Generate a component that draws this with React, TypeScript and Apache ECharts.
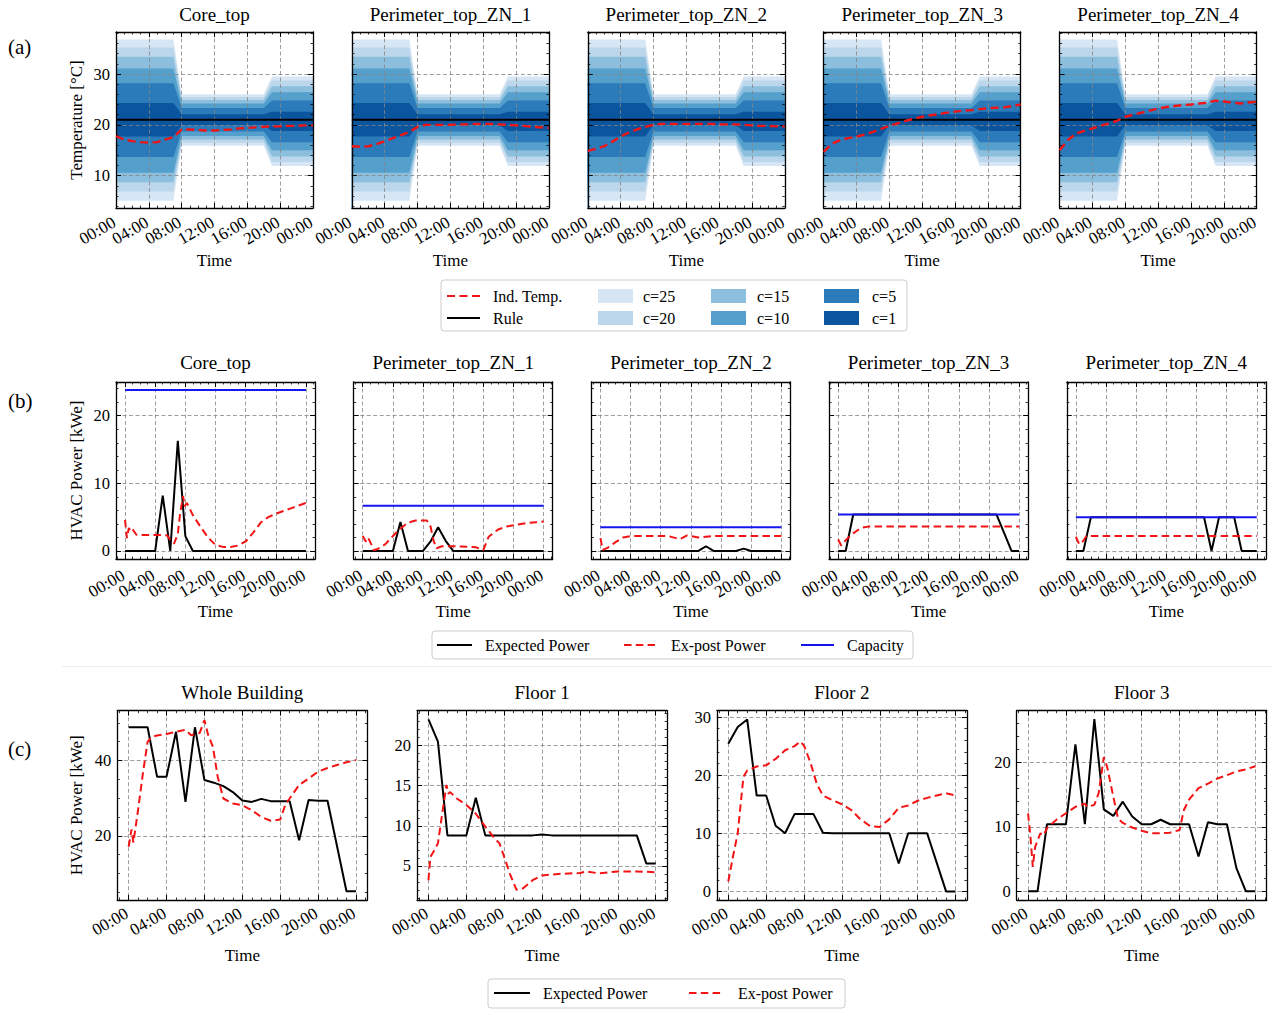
import React, { useEffect, useRef } from "react";
import * as echarts from "echarts";

const FONT = "'Liberation Serif', 'DejaVu Serif', serif";

// ---------------- (a) indoor temperature ----------------
const ZONES = ["Core_top", "Perimeter_top_ZN_1", "Perimeter_top_ZN_2", "Perimeter_top_ZN_3", "Perimeter_top_ZN_4"];
const HOURS = [0, 1, 2, 3, 4, 5, 6, 7, 8, 9, 10, 11, 12, 13, 14, 15, 16, 17, 18, 19, 20, 21, 22, 23, 24];
const PERIOD = ["N", "N", "N", "N", "N", "N", "N", "N", "D", "D", "D", "D", "D", "D", "D", "D", "D", "D", "D", "E", "E", "E", "E", "E", "E"];
const C_LABELS = ["c=25", "c=20", "c=15", "c=10", "c=5", "c=1"];
const C_COLORS = ["#d6e6f4", "#bcd7eb", "#8bbfdd", "#559fcd", "#2b7bba", "#0b559f"];
const NIGHT_LOW = [5.1, 6.9, 8.7, 10.6, 13.7, 17.7];
const NIGHT_HIGH = [36.8, 35.2, 33.4, 31.1, 28.2, 24.3];
const DAY_LOW = [15.9, 16.5, 17.1, 17.8, 18.7, 19.9];
const DAY_HIGH = [26.0, 25.5, 24.9, 24.2, 23.3, 22.1];
const EVE_LOW = [11.9, 12.7, 13.8, 15.0, 16.6, 18.8];
const EVE_HIGH = [29.5, 28.7, 27.6, 26.4, 24.8, 22.6];
const RULE_TEMP = 21.0;
const IND_TEMP_CORE = [17.8, 17.1, 16.8, 16.6, 16.5, 16.6, 17.1, 17.6, 19.1, 19.1, 19.0, 18.9, 18.9, 19.0, 19.1, 19.3, 19.4, 19.5, 19.6, 19.7, 19.7, 19.8, 19.8, 19.9, 19.9];
const IND_TEMP_ZN1 = [15.8, 15.7, 15.8, 16.2, 16.8, 17.4, 18.0, 18.6, 19.6, 20.0, 20.0, 20.0, 20.0, 20.1, 20.1, 20.2, 20.2, 20.2, 20.1, 20.0, 19.9, 19.8, 19.6, 19.5, 19.4];
const IND_TEMP_ZN2 = [14.9, 15.3, 15.8, 16.7, 17.7, 18.5, 19.1, 19.6, 20.0, 20.2, 20.2, 20.2, 20.2, 20.2, 20.2, 20.2, 20.1, 20.1, 20.1, 20.0, 19.9, 19.8, 19.8, 19.7, 19.7];
const IND_TEMP_ZN3 = [14.7, 16.3, 17.0, 17.4, 17.7, 18.1, 18.6, 19.2, 19.8, 20.3, 20.8, 21.2, 21.6, 21.9, 22.1, 22.4, 22.6, 22.8, 22.9, 23.1, 23.25, 23.35, 23.45, 23.7, 24.0];
const IND_TEMP_ZN4 = [15.0, 17.0, 18.3, 18.8, 19.3, 19.8, 20.3, 20.8, 21.6, 22.0, 22.4, 22.8, 23.2, 23.5, 23.7, 23.9, 24.0, 24.2, 24.35, 24.75, 24.6, 24.4, 24.2, 24.4, 24.55];
const IND_TEMPS = [IND_TEMP_CORE, IND_TEMP_ZN1, IND_TEMP_ZN2, IND_TEMP_ZN3, IND_TEMP_ZN4];

// ---------------- (b) zone HVAC power ----------------
const EXP_B_CORE = [0, 0, 0, 0, 0, 8.2, 0, 16.3, 2.2, 0, 0, 0, 0, 0, 0, 0, 0, 0, 0, 0, 0, 0, 0, 0, 0];
const EXP_B_ZN1 = [0, 0, 0, 0, 0, 4.3, 0, 0, 0, 1.4, 3.5, 1.5, 0, 0, 0, 0, 0, 0, 0, 0, 0, 0, 0, 0, 0];
const EXP_B_ZN2 = [0, 0, 0, 0, 0, 0, 0, 0, 0, 0, 0, 0, 0, 0, 0.7, 0, 0, 0, 0, 0.35, 0, 0, 0, 0, 0];
const EXP_B_ZN3 = [0, 0, 5.4, 5.4, 5.4, 5.4, 5.4, 5.4, 5.4, 5.4, 5.4, 5.4, 5.4, 5.4, 5.4, 5.4, 5.4, 5.4, 5.4, 5.4, 5.4, 5.4, 2.7, 0, 0];
const EXP_B_ZN4 = [0, 0, 5.0, 5.0, 5.0, 5.0, 5.0, 5.0, 5.0, 5.0, 5.0, 5.0, 5.0, 5.0, 5.0, 5.0, 5.0, 5.0, 0, 5.0, 5.0, 5.0, 0, 0, 0];
const EXP_B = [EXP_B_CORE, EXP_B_ZN1, EXP_B_ZN2, EXP_B_ZN3, EXP_B_ZN4];
const CAPACITY_B = [23.8, 6.7, 3.5, 5.4, 5.0];
const POST_B_CORE = [[0, 4.6], [0.25, 1.9], [0.5, 3.4], [0.75, 2.9], [1, 3.2], [1.5, 2.4], [2, 2.35], [3, 2.35], [4, 2.35], [5, 2.35], [5.6, 2.3], [6, 1.6], [6.5, 1.1], [7, 2.5], [7.3, 5.5], [7.7, 8.1], [7.9, 6.6], [8.2, 7.1], [8.6, 6.2], [9, 5.3], [10, 3.6], [11, 2.0], [12, 0.9], [13, 0.6], [14, 0.6], [15, 0.8], [16, 1.4], [17, 2.7], [18, 4.2], [19, 5.0], [20, 5.5], [21, 5.9], [22, 6.3], [23, 6.7], [24, 7.1]];
const POST_B_ZN1 = [[0, 2.2], [0.4, 1.4], [0.7, 2.0], [1.5, 0.1], [2, 0.3], [3, 1.0], [4, 2.2], [5, 3.3], [6, 4.2], [7, 4.5], [8, 4.5], [8.5, 4.5], [9, 3.6], [9.4, 1.5], [9.8, 0.4], [10.5, 0.7], [12, 0.7], [13, 0.65], [14, 0.6], [15, 0.55], [16, 0.15], [16.7, 2.1], [17.5, 2.8], [18, 3.2], [19, 3.6], [20, 3.8], [21, 4.0], [22, 4.15], [23, 4.25], [24, 4.35]];
const POST_B_ZN2 = [[0, 1.9], [0.3, 0.15], [1, 0.5], [2, 1.3], [3, 2.0], [4, 2.2], [5, 2.2], [6, 2.2], [7, 2.2], [8, 2.2], [9, 2.2], [10, 1.9], [10.5, 1.75], [11, 2.0], [11.5, 2.3], [12, 2.2], [13, 2.0], [14, 2.1], [15, 2.2], [16, 2.2], [18, 2.2], [20, 2.2], [22, 2.2], [24, 2.2]];
const POST_B_ZN3 = [[0, 1.7], [0.4, 0.8], [1.1, 1.7], [2, 2.6], [3, 3.4], [4, 3.6], [6, 3.6], [10, 3.6], [14, 3.6], [18, 3.6], [22, 3.6], [24, 3.6]];
const POST_B_ZN4 = [[0, 2.1], [0.45, 1.0], [1, 1.5], [1.4, 2.2], [2, 2.2], [6, 2.2], [12, 2.2], [18, 2.2], [24, 2.2]];
const POST_B = [POST_B_CORE, POST_B_ZN1, POST_B_ZN2, POST_B_ZN3, POST_B_ZN4];

// ---------------- (c) aggregated HVAC power ----------------
const AGG_NAMES = ["Whole Building", "Floor 1", "Floor 2", "Floor 3"];
const EXP_WHOLE = [48.8, 48.8, 48.8, 35.7, 35.7, 47.6, 29.0, 48.8, 34.8, 34.1, 33.2, 31.6, 29.4, 29.0, 29.8, 29.2, 29.2, 29.2, 18.8, 29.5, 29.3, 29.3, 17.3, 5.3, 5.3];
const EXP_F1 = [23.3, 20.5, 8.8, 8.8, 8.8, 13.5, 8.8, 8.8, 8.8, 8.8, 8.8, 8.8, 8.9, 8.8, 8.8, 8.8, 8.8, 8.8, 8.8, 8.8, 8.8, 8.8, 8.8, 5.3, 5.3];
const EXP_F2 = [25.4, 28.3, 29.6, 16.5, 16.5, 11.3, 10.0, 13.3, 13.3, 13.3, 10.1, 10.0, 10.0, 10.0, 10.0, 10.0, 10.0, 10.0, 4.8, 10.0, 10.0, 10.0, 5.0, 0, 0];
const EXP_F3 = [0, 0, 10.4, 10.4, 10.4, 22.8, 10.4, 26.7, 12.7, 11.7, 13.9, 11.6, 10.4, 10.4, 11.1, 10.4, 10.4, 10.4, 5.4, 10.7, 10.4, 10.4, 3.6, 0, 0];
const EXP_C = [EXP_WHOLE, EXP_F1, EXP_F2, EXP_F3];
const POST_WHOLE = [[0, 17.1], [0.3, 21.7], [0.5, 18.2], [1.0, 27.0], [1.5, 36.5], [2, 45.0], [2.5, 46.3], [3, 46.6], [4, 47.0], [5, 47.6], [6, 48.1], [6.6, 46.7], [7, 47.0], [7.5, 47.3], [8, 50.7], [8.4, 46.7], [8.9, 43.6], [9.4, 35.7], [10, 29.9], [11, 28.6], [12, 28.1], [13, 26.8], [14, 25.0], [15, 24.0], [16, 24.3], [16.6, 28.6], [17, 29.9], [18, 33.5], [19, 35.2], [20, 37.0], [21, 38.0], [22, 38.8], [23, 39.5], [24, 40.1]];
const POST_F1 = [[0, 3.2], [0.2, 6.1], [0.5, 6.7], [1, 7.8], [1.5, 11.9], [1.9, 15.1], [2.1, 14.0], [2.3, 14.2], [3, 13.4], [4, 12.6], [5, 11.5], [6, 9.9], [7, 8.4], [7.5, 7.8], [8, 6.1], [8.6, 4.0], [9.3, 2.0], [10, 2.2], [11, 3.2], [12, 3.8], [14, 4.0], [16, 4.1], [16.7, 4.3], [18, 4.05], [20, 4.3], [22, 4.3], [24, 4.2]];
const POST_F2 = [[0, 1.7], [0.5, 6.0], [1, 10.0], [1.6, 19.7], [2, 20.8], [3, 21.5], [4, 21.7], [5, 22.8], [6, 24.3], [7, 25.0], [7.6, 25.8], [8, 25.1], [8.65, 22.3], [9.35, 18.5], [10, 16.5], [11, 15.7], [12, 15.0], [13, 14.0], [13.9, 12.5], [15, 11.2], [16, 11.1], [17, 12.4], [18, 14.4], [19, 14.8], [20, 15.6], [21, 16.1], [22, 16.5], [23, 16.9], [24, 16.5]];
const POST_F3 = [[0, 12.1], [0.25, 8.5], [0.5, 3.8], [0.75, 6.9], [1.3, 9.0], [1.65, 8.7], [2, 9.8], [3, 11.1], [4, 12.1], [5, 13.1], [6, 13.6], [6.25, 13.1], [7, 13.4], [7.45, 15.2], [8, 20.8], [8.35, 19.3], [9, 14.7], [9.5, 11.3], [10, 10.6], [11, 9.9], [12, 9.4], [13, 9.0], [14, 9.0], [15, 9.1], [16, 9.5], [16.45, 12.6], [17, 14.2], [18, 16.0], [19, 16.7], [20, 17.5], [21, 18.0], [22, 18.6], [23, 18.9], [24, 19.4]];
const POST_C = [POST_WHOLE, POST_F1, POST_F2, POST_F3];

// ---------------- ticks ----------------
const X_MAJOR = [0, 4, 8, 12, 16, 20, 24];
const X_LABELS_SET1 = [0, 8, 16, 24];
const X_LABELS_SET2 = [4, 12, 20];
const X_MINOR_A = [0, 1, 2, 3, 4, 5, 6, 7, 8, 9, 10, 11, 12, 13, 14, 15, 16, 17, 18, 19, 20, 21, 22, 23, 24];
const X_MINOR_BC = [-1, 0, 1, 2, 3, 4, 5, 6, 7, 8, 9, 10, 11, 12, 13, 14, 15, 16, 17, 18, 19, 20, 21, 22, 23, 24, 25];
const Y_A_MAJOR = [10, 20, 30];
const Y_A_MINOR = [4, 6, 8, 10, 12, 14, 16, 18, 20, 22, 24, 26, 28, 30, 32, 34, 36, 38];
const Y_B_MAJOR = [0, 10, 20];
const Y_B_MINOR = [0, 2, 4, 6, 8, 10, 12, 14, 16, 18, 20, 22, 24];
const Y_C_MAJOR = [[20, 40], [5, 10, 15, 20], [0, 10, 20, 30], [0, 10, 20]];
const Y_C_MINOR = [
  [5, 10, 15, 20, 25, 30, 35, 40, 45, 50],
  [1, 2, 3, 4, 5, 6, 7, 8, 9, 10, 11, 12, 13, 14, 15, 16, 17, 18, 19, 20, 21, 22, 23, 24],
  [0, 2, 4, 6, 8, 10, 12, 14, 16, 18, 20, 22, 24, 26, 28, 30],
  [0, 2, 4, 6, 8, 10, 12, 14, 16, 18, 20, 22, 24, 26],
];
const Y_C_RANGE = [[2.97, 53.2], [0.73, 24.37], [-1.48, 31.1], [-1.34, 28.0]];
const Y_A_RANGE = [3.65, 38.26];
const Y_B_RANGE = [-1.19, 24.99];
const X_BC_RANGE = [-1.2, 25.2];

const RED = "#f21414";
const BLUE = "#1414f0";
const BLACK = "#000000";
const GRID_COLOR = "#858585";

function fmtTime(v: number) {
  const h = ((Math.round(v) % 24) + 24) % 24;
  return (h < 10 ? "0" : "") + h + ":00";
}

type Rect = { left: number; top: number; width: number; height: number };
type PanelCfg = {
  xMin: number; xMax: number; xMinor: number[];
  yMin: number; yMax: number; yMajor: number[]; yMinor: number[];
  showYLabels: boolean; yName?: string; yNameGap: number;
  xLabelMargin: number; xNameGap: number;
};

function addPanel(opt: any, r: Rect, p: PanelCfg) {
  const gridIndex = opt.grid.length;
  opt.grid.push({ left: r.left, top: r.top, width: r.width, height: r.height, containLabel: false, outerBoundsMode: "none", show: false });
  const xIdx = opt.xAxis.length;
  const yIdx = opt.yAxis.length;
  const tick = (vals: number[], len: number) => ({
    show: true, inside: true, length: len, customValues: vals,
    lineStyle: { color: BLACK, width: len > 3 ? 1 : 0.8 },
  });
  const split = { show: true, lineStyle: { color: GRID_COLOR, width: 0.8, type: [4, 2.5] } };
  const line = (show: boolean) => ({ show, onZero: false, lineStyle: { color: BLACK, width: 1.3 } });
  const base = { type: "value", gridIndex, z: 3, minorTick: { show: false }, minorSplitLine: { show: false }, splitArea: { show: false } };
  const bx = { ...base, min: p.xMin, max: p.xMax };
  const by = { ...base, min: p.yMin, max: p.yMax };
  const nameStyle = { fontSize: 17, fontFamily: FONT, color: BLACK };
  const xLabel = (vals: number[]) => ({
    show: true, customValues: vals, formatter: fmtTime, rotate: 30, margin: p.xLabelMargin, padding: [0, 2, 0, 0],
    fontSize: 17, fontFamily: FONT, color: BLACK, showMinLabel: true, showMaxLabel: true, hideOverlap: false,
  });
  opt.xAxis.push({
    ...bx, position: "bottom", axisLine: line(true), axisTick: tick(X_MAJOR, 5),
    axisLabel: xLabel(X_LABELS_SET1),
    splitLine: split, name: "Time", nameLocation: "middle", nameGap: p.xNameGap, nameMoveOverlap: false, nameTextStyle: nameStyle,
  });
  opt.xAxis.push({ ...bx, position: "bottom", axisLine: line(false), axisTick: tick(p.xMinor, 2.5), axisLabel: xLabel(X_LABELS_SET2), splitLine: { show: false } });
  opt.xAxis.push({ ...bx, position: "top", axisLine: line(true), axisTick: tick(X_MAJOR, 5), axisLabel: { show: false }, splitLine: { show: false } });
  opt.xAxis.push({ ...bx, position: "top", axisLine: line(false), axisTick: tick(p.xMinor, 2.5), axisLabel: { show: false }, splitLine: { show: false } });
  opt.yAxis.push({
    ...by, position: "left", axisLine: line(true), axisTick: tick(p.yMajor, 5),
    axisLabel: { show: p.showYLabels, customValues: p.yMajor, margin: 6, fontSize: 16.5, fontFamily: FONT, color: BLACK, showMinLabel: true, showMaxLabel: true },
    splitLine: split,
    name: p.yName || "", nameLocation: "middle", nameRotate: 90, nameGap: p.yNameGap, nameMoveOverlap: false, nameTextStyle: nameStyle,
  });
  opt.yAxis.push({ ...by, position: "left", axisLine: line(false), axisTick: tick(p.yMinor, 2.5), axisLabel: { show: false }, splitLine: { show: false } });
  opt.yAxis.push({ ...by, position: "right", axisLine: line(true), axisTick: tick(p.yMajor, 5), axisLabel: { show: false }, splitLine: { show: false } });
  opt.yAxis.push({ ...by, position: "right", axisLine: line(false), axisTick: tick(p.yMinor, 2.5), axisLabel: { show: false }, splitLine: { show: false } });
  return { xAxisIndex: xIdx, yAxisIndex: yIdx };
}

function lineSeries(idx: any, name: string, data: number[][], color: string, width: number, dash: number[] | null, z: number) {
  return {
    type: "line", name, ...idx, data, symbol: "none", showSymbol: false, z, silent: true,
    lineStyle: { color, width, type: dash ? dash : "solid" }, itemStyle: { color },
    emphasis: { disabled: true }, animation: false, clip: true,
  };
}

function areaSeries(idx: any, name: string, data: number[][], color: string) {
  return {
    type: "line", name, ...idx, data, symbol: "none", showSymbol: false, z: 2, silent: true,
    lineStyle: { width: 0, opacity: 0 }, areaStyle: { color, opacity: 1, origin: "start" },
    emphasis: { disabled: true }, animation: false,
  };
}

function bandLevel(i: number, c: number, high: boolean) {
  const per = PERIOD[i];
  if (per === "N") return high ? NIGHT_HIGH[c] : NIGHT_LOW[c];
  if (per === "D") return high ? DAY_HIGH[c] : DAY_LOW[c];
  return high ? EVE_HIGH[c] : EVE_LOW[c];
}

const gLine = (x1: number, y1: number, x2: number, y2: number, stroke: string, lineWidth: number, lineDash?: number[]) => ({
  type: "line", shape: { x1, y1, x2, y2 }, style: { stroke, lineWidth, lineDash: lineDash || null }, silent: true, z: 100,
});
const gText = (x: number, y: number, text: string, size: number, align = "left") => ({
  type: "text", x, y, style: { text, fill: BLACK, font: `${size}px ${FONT}`, textAlign: align, textVerticalAlign: "middle" }, silent: true, z: 100,
});
const gRect = (x: number, y: number, width: number, height: number, fill: string, stroke?: string) => ({
  type: "rect", shape: { x, y, width, height, r: stroke ? 3 : 0 }, style: { fill, stroke: stroke || null, lineWidth: stroke ? 1 : 0 }, silent: true, z: 99,
});

function buildOption() {
  const opt: any = {
    animation: false,
    backgroundColor: "#ffffff",
    textStyle: { fontFamily: FONT, color: BLACK },
    grid: [], xAxis: [], yAxis: [], series: [], graphic: [],
  };
  const G: any[] = opt.graphic;

  // ---- row (a)
  ZONES.forEach((zone, k) => {
    const r = { left: 116 + k * 235.9, top: 32, width: 197, height: 176 };
    const idx = addPanel(opt, r, {
      xMin: 0, xMax: 24, xMinor: X_MINOR_A, yMin: Y_A_RANGE[0], yMax: Y_A_RANGE[1],
      yMajor: Y_A_MAJOR, yMinor: Y_A_MINOR, showYLabels: k === 0, yName: k === 0 ? "Temperature [°C]" : "",
      yNameGap: 31, xLabelMargin: 12, xNameGap: 44,
    });
    for (let c = 0; c < 6; c++) {
      opt.series.push(areaSeries(idx, C_LABELS[c], HOURS.map((h, i) => [h, bandLevel(i, c, true)]), C_COLORS[c]));
    }
    for (let c = 5; c >= 0; c--) {
      opt.series.push(areaSeries(idx, C_LABELS[c], HOURS.map((h, i) => [h, bandLevel(i, c, false)]), c === 0 ? "#ffffff" : C_COLORS[c - 1]));
    }
    opt.series.push(lineSeries(idx, "Rule", HOURS.map((h) => [h, RULE_TEMP]), BLACK, 2.2, null, 5));
    opt.series.push(lineSeries(idx, "Ind. Temp.", HOURS.map((h, i) => [h, IND_TEMPS[k][i]]), RED, 2.4, [8, 4.5], 6));
    G.push(gText(r.left + r.width / 2, 14, zone, 19, "center"));
  });

  // ---- row (b)
  ZONES.forEach((zone, k) => {
    const r = { left: 116 + k * 237.7, top: 382, width: 199, height: 177 };
    const idx = addPanel(opt, r, {
      xMin: X_BC_RANGE[0], xMax: X_BC_RANGE[1], xMinor: X_MINOR_BC, yMin: Y_B_RANGE[0], yMax: Y_B_RANGE[1],
      yMajor: Y_B_MAJOR, yMinor: Y_B_MINOR, showYLabels: k === 0, yName: k === 0 ? "HVAC Power [kWe]" : "",
      yNameGap: 31, xLabelMargin: 14, xNameGap: 44,
    });
    opt.series.push(lineSeries(idx, "Expected Power", HOURS.map((h, i) => [h, EXP_B[k][i]]), BLACK, 2, null, 5));
    opt.series.push(lineSeries(idx, "Ex-post Power", POST_B[k], RED, 2, [7.5, 4.3], 6));
    opt.series.push(lineSeries(idx, "Capacity", [[0, CAPACITY_B[k]], [24, CAPACITY_B[k]]], BLUE, 2, null, 7));
    G.push(gText(r.left + r.width / 2, 362.5, zone, 19, "center"));
  });

  // ---- row (c)
  AGG_NAMES.forEach((nm, k) => {
    const r = { left: 117.3 + k * 299.8, top: 710.7, width: 250, height: 189.3 };
    const idx = addPanel(opt, r, {
      xMin: X_BC_RANGE[0], xMax: X_BC_RANGE[1], xMinor: X_MINOR_BC, yMin: Y_C_RANGE[k][0], yMax: Y_C_RANGE[k][1],
      yMajor: Y_C_MAJOR[k], yMinor: Y_C_MINOR[k], showYLabels: true, yName: k === 0 ? "HVAC Power [kWe]" : "",
      yNameGap: 32, xLabelMargin: 11, xNameGap: 46.5,
    });
    opt.series.push(lineSeries(idx, "Expected Power", HOURS.map((h, i) => [h, EXP_C[k][i]]), BLACK, 2, null, 5));
    opt.series.push(lineSeries(idx, "Ex-post Power", POST_C[k], RED, 2, [7.5, 4.3], 6));
    G.push(gText(r.left + r.width / 2, 692.5, nm, 19, "center"));
  });

  // ---- panel labels
  G.push(gText(8, 46.5, "(a)", 21));
  G.push(gText(8, 401, "(b)", 21));
  G.push(gText(8, 749, "(c)", 21));

  // ---- separators
  G.push(gLine(62, 666.5, 1272, 666.5, "#ececec", 1));

  // ---- legend (a)
  G.push(gRect(441, 280, 466, 51, "#ffffff", "#cccccc"));
  G.push(gLine(447, 296, 480, 296, RED, 2.2, [8, 4.5]));
  G.push(gText(493, 296, "Ind. Temp.", 16));
  G.push(gLine(447, 318, 480, 318, BLACK, 2.2));
  G.push(gText(493, 318, "Rule", 16));
  const colX = [598, 711, 824];
  const txtX = [643, 757, 872];
  for (let j = 0; j < 3; j++) {
    const top = C_LABELS[j * 2];
    const bot = C_LABELS[j * 2 + 1];
    G.push(gRect(colX[j], 289, 35, 14, C_COLORS[j * 2]));
    G.push(gText(txtX[j], 296, top, 16));
    G.push(gRect(colX[j], 311, 35, 14, C_COLORS[j * 2 + 1]));
    G.push(gText(txtX[j], 318, bot, 16));
  }

  // ---- legend (b)
  G.push(gRect(432, 631, 481, 28, "#ffffff", "#cccccc"));
  G.push(gLine(437, 645, 472, 645, BLACK, 2));
  G.push(gText(485, 645, "Expected Power", 16));
  G.push(gLine(624, 645, 655, 645, RED, 2, [7.5, 4.3]));
  G.push(gText(671, 645, "Ex-post Power", 16));
  G.push(gLine(801, 645, 834, 645, BLUE, 2));
  G.push(gText(847, 645, "Capacity", 16));

  // ---- legend (c)
  G.push(gRect(488, 979, 357, 29, "#ffffff", "#cccccc"));
  G.push(gLine(494, 993, 530, 993, BLACK, 2));
  G.push(gText(543, 993, "Expected Power", 16));
  G.push(gLine(689, 993, 723, 993, RED, 2, [7.5, 4.3]));
  G.push(gText(738, 993, "Ex-post Power", 16));

  return opt;
}

export default function App() {
  const ref = useRef<HTMLDivElement>(null);
  useEffect(() => {
    if (!ref.current) return;
    const chart = echarts.init(ref.current, null, { renderer: "svg" });
    chart.setOption(buildOption());
    return () => chart.dispose();
  }, []);
  return <div ref={ref} style={{ position: "absolute", left: 0, top: 0, width: 1275, height: 1011, background: "#fff" }} />;
}
